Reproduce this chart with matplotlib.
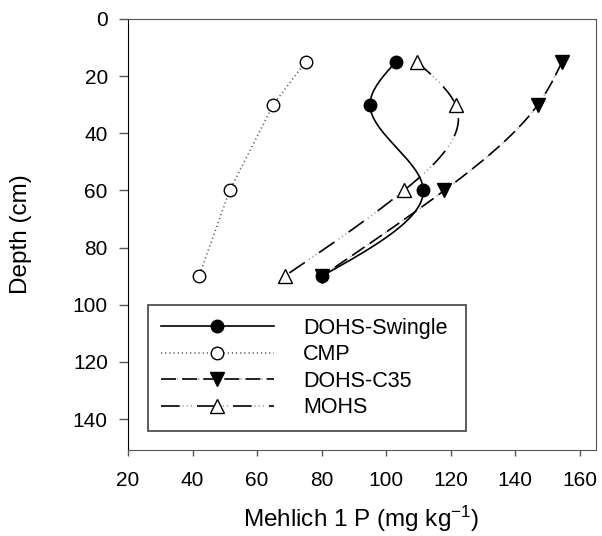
import numpy as np
import matplotlib.pyplot as plt
from matplotlib.lines import Line2D

plt.rcParams['font.family'] = ['Liberation Sans', 'DejaVu Sans']
plt.rcParams['mathtext.default'] = 'regular'
plt.rcParams['lines.scale_dashes'] = False

depth = [15, 30, 60, 90]
swingle = [103, 95, 111.5, 80]
cmp_p = [75, 65, 51.5, 42]
c35 = [154.5, 147, 118, 80]
mohs = [109.5, 121.5, 105.5, 68.5]

labels = ['DOHS-Swingle', 'CMP', 'DOHS-C35', 'MOHS']
xticks = [20, 40, 60, 80, 100, 120, 140, 160]
yticks = [0, 20, 40, 60, 80, 100, 120, 140]


def natural_spline(t, v, n=200):
    # natural cubic spline v(t), the way SigmaPlot smooths the lines
    t = np.asarray(t, float)
    v = np.asarray(v, float)
    k = len(t)
    h = np.diff(t)
    A = np.zeros((k, k))
    b = np.zeros(k)
    A[0, 0] = A[-1, -1] = 1
    for i in range(1, k - 1):
        A[i, i - 1] = h[i - 1]
        A[i, i] = 2 * (h[i - 1] + h[i])
        A[i, i + 1] = h[i]
        b[i] = 6 * ((v[i + 1] - v[i]) / h[i] - (v[i] - v[i - 1]) / h[i - 1])
    m = np.linalg.solve(A, b)
    tt = np.linspace(t[0], t[-1], n)
    idx = np.clip(np.searchsorted(t, tt) - 1, 0, k - 2)
    t0, t1 = t[idx], t[idx + 1]
    hh = t1 - t0
    a = (t1 - tt) / hh
    c = (tt - t0) / hh
    vv = a * v[idx] + c * v[idx + 1] + ((a ** 3 - a) * m[idx] + (c ** 3 - c) * m[idx + 1]) * hh ** 2 / 6
    return vv, tt


fig = plt.figure(figsize=(6.02, 5.36), dpi=100)
ax = fig.add_axes([0.2126, 0.1604, 0.7774, 0.8042])

lw = 1.2
grey = '#999999'
# dash parts black, dot parts grey (drawn as two overlaid lines)
c35_dash = (0, (10.8, 4.4))
c35_dot = (15.2 - 11.6, (0.8, 14.4))
mohs_dash = (0, (13.5, 12.4))
mohs_dot = (25.9 - 15.5, (0.8, 2.2, 0.8, 2.2, 0.8, 19.1))
cmp_dot = (0, (0.8, 2.2))

x, y = natural_spline(depth, swingle)
ax.plot(x, y, color='black', lw=lw, ls='-')
ax.plot(cmp_p, depth, color='#555555', lw=lw, ls=cmp_dot)
x, y = natural_spline(depth, c35)
ax.plot(x, y, color='black', lw=lw, ls=c35_dash)
ax.plot(x, y, color=grey, lw=lw, ls=c35_dot)
x, y = natural_spline(depth, mohs)
ax.plot(x, y, color='black', lw=lw, ls=mohs_dash)
ax.plot(x, y, color=grey, lw=lw, ls=mohs_dot)

ms = 9
ax.plot(swingle, depth, 'o', ms=ms, mfc='black', mec='black', ls='none')
ax.plot(cmp_p, depth, 'o', ms=ms, mfc='white', mec='black', mew=1, ls='none')
ax.plot(c35, depth, 'v', ms=ms + 1, mfc='black', mec='black', ls='none')
ax.plot(mohs, depth, '^', ms=ms + 1, mfc='white', mec='black', mew=1, ls='none')

handles = [
    Line2D([], [], color='black', lw=lw, ls='-', marker='o', ms=ms, mfc='black'),
    Line2D([], [], color='#555555', lw=lw, ls=cmp_dot, marker='o', ms=ms, mfc='white', mec='black', mew=1),
    (Line2D([], [], color=grey, lw=lw, ls=c35_dot),
     Line2D([], [], color='black', lw=lw, ls=c35_dash, marker='v', ms=ms + 1, mfc='black')),
    (Line2D([], [], color=grey, lw=lw, ls=mohs_dot),
     Line2D([], [], color='black', lw=lw, ls=mohs_dash, marker='^', ms=ms + 1, mfc='white', mew=1)),
]
leg = ax.legend(handles, labels, loc='lower left', bbox_to_anchor=(0.0427, 0.044, 0.679, 0.297),
                mode='expand', fontsize=15.5, frameon=True, fancybox=False, handlelength=5.25,
                handletextpad=1.35, borderaxespad=0, labelspacing=0.25, borderpad=0.6)
leg.get_frame().set_edgecolor('#222222')
leg.get_frame().set_linewidth(1.3)

ax.set_xlim(20, 165)
ax.set_ylim(150.8, 0)
ax.set_xticks(xticks)
ax.set_yticks(yticks)
ax.tick_params(axis='y', direction='out', length=6.5, width=1, color='#555555', labelsize=15, pad=8)
ax.tick_params(axis='x', direction='out', length=4, width=1, color='#555555', labelsize=15, pad=11)
for s in ['top', 'right', 'bottom']:
    ax.spines[s].set_color('#555555')
ax.spines['left'].set_color('black')

ax.set_xlabel('Mehlich 1 P (mg kg$^{-1}$)', fontsize=17.5)
ax.set_ylabel('Depth (cm)', fontsize=17.5)
ax.xaxis.set_label_coords(0.498, -0.125)
ax.yaxis.set_label_coords(-0.205, 0.5)

fig.savefig('out.png', dpi=100)
